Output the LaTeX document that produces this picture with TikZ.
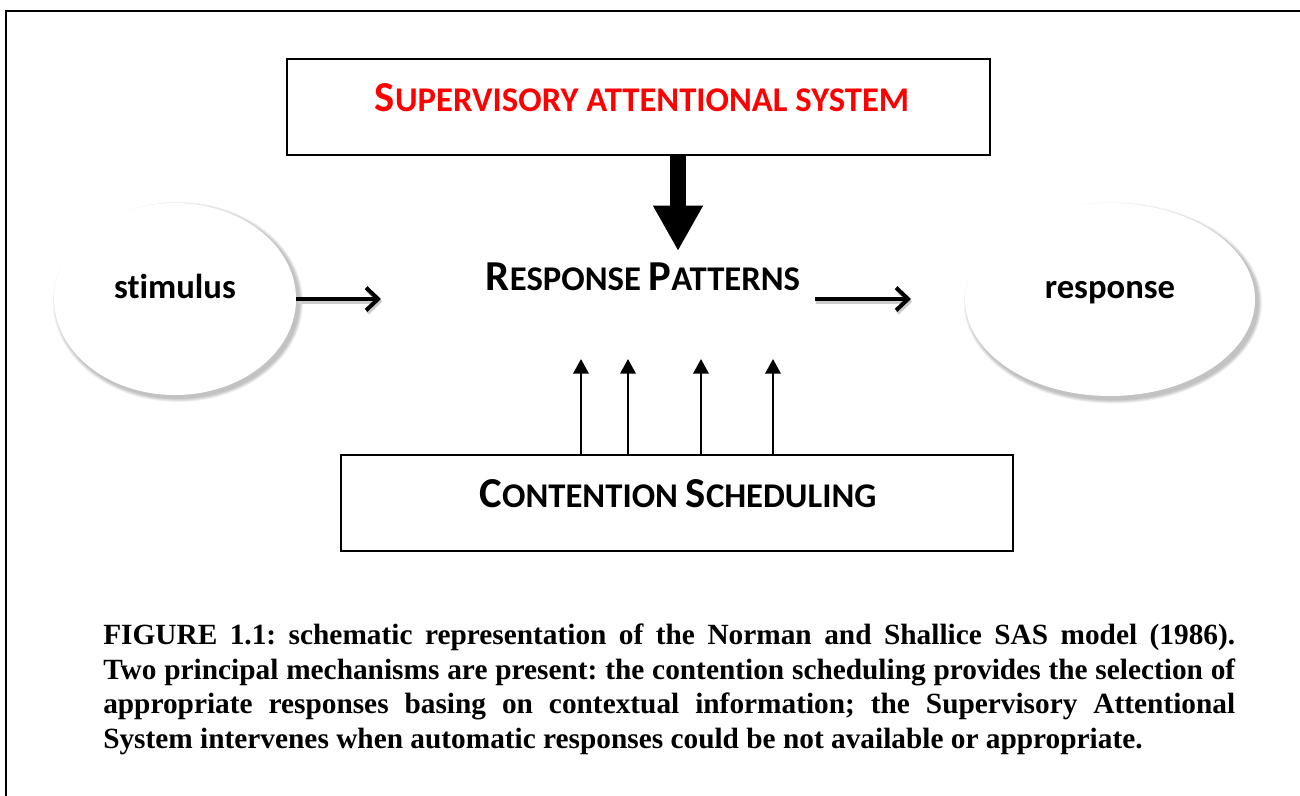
\documentclass[tikz,border=0pt]{standalone}
\usepackage{fontspec}
\setmainfont{Liberation Serif}
\newfontfamily\calib[Ligatures={NoCommon}]{Carlito}
\usetikzlibrary{arrows.meta,shapes.geometric}
\newcommand\mysc[4]{{\fontsize{#1}{#1}\selectfont #3}{\fontsize{#2}{#2}\selectfont #4}}
\newcommand\capsetup{\frenchspacing\hyphenpenalty=10000\relax}
\begin{document}
\begin{tikzpicture}[x=0.75pt,y=-0.75pt,
  frame/.style={line width=1.5pt},
  boxnode/.style={draw, line width=1.3pt, inner sep=0pt},
  ellnode/.style={ellipse, fill=white, inner sep=0pt},
  shadowell/.style={ellipse, fill=black, opacity=0.05, inner sep=0pt},
  lbl/.style={font=\calib\bfseries, inner sep=0pt, anchor=base},
  harrow/.style={line width=3pt, -{Straight Barb[length=9pt,width=17pt,line width=3pt]}},
  uparrow/.style={line width=1.8pt, -{Triangle[length=11pt,width=11.5pt]}},
  bigarrow/.style={line width=12pt, -{Triangle[length=34pt,width=35pt]}},
  caption/.style={font=\bfseries\fontsize{22}{25.9}\selectfont, text width=849pt, align=justify, inner sep=0pt, anchor=north west}
]
\useasboundingbox (0,0) rectangle (1300,796);
\fill[white] (0,0) rectangle (1300,796);
\draw[frame] (6,11) rectangle (1320,820);

% boxes
\node[boxnode, minimum width=527.25pt, minimum height=72pt] (sas) at (638.5,107) {};
\node[lbl, text=red] (sastext) at (642,111) {\mysc{32}{26}{S}{UPERVISORY ATTENTIONAL SYSTEM}};
\node[boxnode, minimum width=504pt, minimum height=72pt] (cs) at (677,503) {};
\node[lbl] (cstext) at (678,507) {\mysc{32}{26}{C}{ONTENTION }\mysc{32}{26}{S}{CHEDULING}};

% ellipses with soft shadows
\foreach \i in {1,...,5}{
  \node[shadowell, minimum width=242pt*0.75+\i*1.2pt, minimum height=192pt*0.75+\i*1.2pt] at (178,302) {};
  \node[shadowell, minimum width=290pt*0.75+\i*1.2pt, minimum height=193pt*0.75+\i*1.2pt] at (1113,303) {};
}
\node[ellnode, minimum width=181.5pt, minimum height=144pt] (stim) at (175,299) {};
\node[ellnode, minimum width=217.5pt, minimum height=144.75pt] (resp) at (1110,299.5) {};
\node[lbl, font=\calib\bfseries\fontsize{26}{30}\selectfont] (stimtext) at (175,298) {stimulus};
\node[lbl, font=\calib\bfseries\fontsize{26}{30}\selectfont] (resptext) at (1110,298) {response};

% response patterns
\node[lbl] (rp) at (643,290) {\mysc{32}{26}{R}{ESPONSE }\mysc{32}{26}{P}{ATTERNS}};

% connectors
\coordinate (a1) at (381,299);
\coordinate (a2s) at (815,299);
\coordinate (a2e) at (911,299);
\draw[harrow, gray!40] ([xshift=1pt,yshift=-2pt]stim.east) -- ([xshift=1pt,yshift=-2pt]a1);
\draw[harrow] (stim.east) -- (a1);
\draw[harrow, gray!40] ([xshift=1pt,yshift=-2pt]a2s) -- ([xshift=1pt,yshift=-2pt]a2e);
\draw[harrow] (a2s) -- (a2e);

\coordinate (d) at (678,251);
\draw[bigarrow] (sas.south -| d) -- (d);

\foreach \x [count=\k] in {581,628,701,773}{
  \coordinate (u\k) at (\x,359);
  \draw[uparrow] (cs.north -| u\k) -- (u\k);
}

% caption
\node[caption] (cap) at (103,624) {\capsetup FIGURE 1.1: schematic representation of the Norman and Shallice SAS model (1986).\linebreak Two principal mechanisms are present: the contention scheduling provides the selection of\linebreak appropriate responses basing on contextual information; the Supervisory Attentional\linebreak System intervenes when automatic responses could be not available or appropriate.};
\end{tikzpicture}
\end{document}
